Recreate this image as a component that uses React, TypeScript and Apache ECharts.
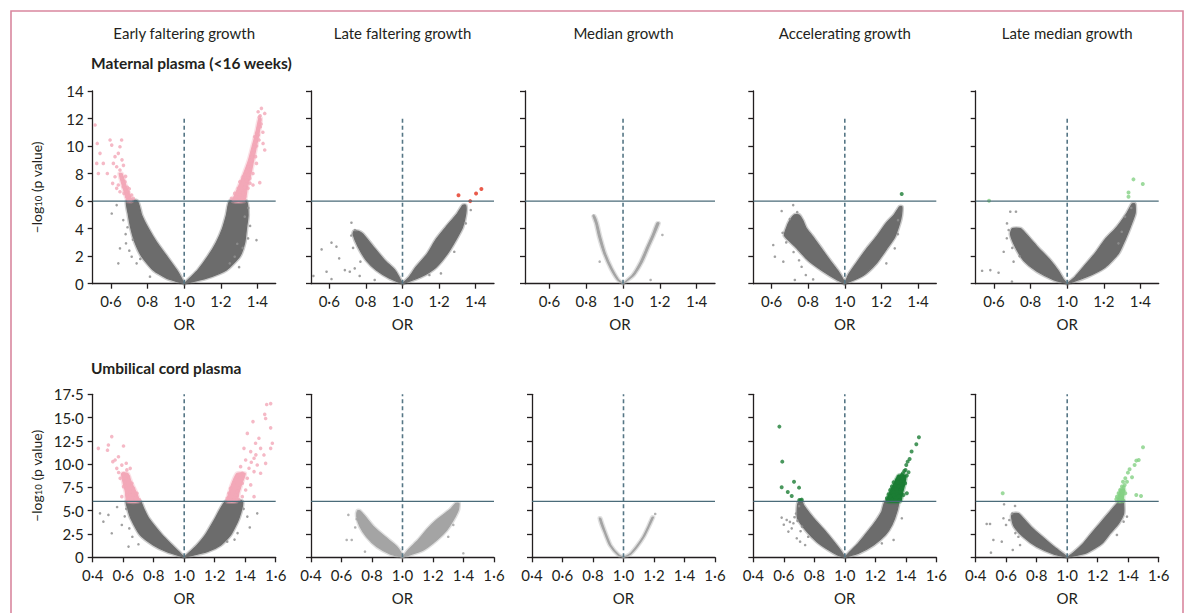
import React, { useEffect, useRef } from 'react';
import * as echarts from 'echarts';

// ---------- text ----------
const columnTitles = ['Early faltering growth', 'Late faltering growth', 'Median growth', 'Accelerating growth', 'Late median growth'];
const rowTitles = ['Maternal plasma (<16 weeks)', 'Umbilical cord plasma'];
const xName = 'OR';
const yName = '–log{sub|10} (p value)';

// ---------- axes ----------
const topXTicks = [0.6, 0.8, 1.0, 1.2, 1.4];
const bottomXTicks = [0.4, 0.6, 0.8, 1.0, 1.2, 1.4, 1.6];
const topXRange = [0.5, 1.5];
const topMedianXRange = [0.467, 1.5];
const bottomXRange = [0.4, 1.6];
const topYRange = [0, 14];
const topYStep = 2;
const bottomYRange = [0, 17.5];
const bottomYStep = 2.5;
const threshold = 6;
const nullOR = 1;
const topDashEnd = 12;
const bottomDashEnd = 17.5;

// ---------- dense bands: [-log10 p, inner OR (near 1), outer OR] ----------
const mEarlyBandL = [[0, 1, 1], [0.4, 0.985, 0.904], [1, 0.958, 0.831], [2, 0.904, 0.767], [3, 0.849, 0.731], [4, 0.804, 0.709], [5, 0.767, 0.695], [6, 0.744, 0.685]];
const mEarlyBandR = [[0, 1, 1], [0.4, 1.031, 1.122], [1, 1.076, 1.231], [2, 1.131, 1.304], [3, 1.176, 1.331], [4, 1.209, 1.34], [5, 1.231, 1.349], [6, 1.249, 1.34]];
const mLateBandL = [[0, 1, 1], [0.4, 0.984, 0.929], [1, 0.957, 0.857], [1.7, 0.902, 0.803], [2.7, 0.839, 0.757], [3.6, 0.784, 0.73], [3.8, 0.76, 0.735]];
const mLateBandR = [[0, 1, 1], [0.5, 1.038, 1.101], [1.2, 1.074, 1.183], [2.2, 1.138, 1.246], [3.2, 1.183, 1.292], [4.1, 1.237, 1.328], [5.1, 1.3, 1.346], [5.7, 1.33, 1.345]];
const mMedianBandL = [[0, 1, 1], [0.3, 0.975, 0.969], [1.1, 0.94, 0.932], [2.2, 0.904, 0.896], [3.4, 0.878, 0.868], [4.4, 0.86, 0.851], [4.9, 0.846, 0.838]];
const mMedianBandR = [[0, 1, 1], [0.6, 1.05, 1.058], [1.6, 1.095, 1.105], [2.7, 1.131, 1.141], [3.5, 1.158, 1.168], [4.4, 1.185, 1.195]];
const mAccelBandL = [[0, 1, 1], [0.3, 0.991, 0.955], [0.9, 0.964, 0.882], [1.7, 0.918, 0.8], [2.7, 0.864, 0.73], [3.5, 0.82, 0.67], [4.0, 0.79, 0.68], [4.6, 0.77, 0.7], [5.0, 0.75, 0.725]];
const mAccelBandR = [[0, 1, 1], [0.6, 1.018, 1.1], [1.5, 1.064, 1.173], [2.5, 1.118, 1.227], [3.4, 1.173, 1.273], [4.4, 1.227, 1.3], [5.0, 1.27, 1.31], [5.6, 1.3, 1.312]];
const mLateMedBandL = [[0, 1, 1], [0.3, 0.98, 0.925], [0.9, 0.953, 0.835], [1.7, 0.907, 0.762], [2.7, 0.835, 0.716], [3.6, 0.775, 0.69], [4.0, 0.745, 0.7]];
const mLateMedBandR = [[0, 1, 1], [0.5, 1.044, 1.107], [1.2, 1.089, 1.207], [2.2, 1.153, 1.28], [3.2, 1.207, 1.316], [4.1, 1.271, 1.344], [5.1, 1.325, 1.371], [5.8, 1.355, 1.37]];
const cEarlyBandL = [[0, 1, 1], [0.6, 0.964, 0.887], [1.3, 0.92, 0.8], [2.4, 0.854, 0.712], [4.2, 0.766, 0.65], [5.2, 0.735, 0.63], [6, 0.712, 0.62]];
const cEarlyBandR = [[0, 1, 1], [0.6, 1.04, 1.15], [1.3, 1.085, 1.238], [2.4, 1.14, 1.304], [4.2, 1.205, 1.359], [6, 1.271, 1.381]];
const cLateBandL = [[0, 1, 1], [0.36, 0.995, 0.918], [1.15, 0.962, 0.831], [2.2, 0.885, 0.765], [3.3, 0.809, 0.721], [4.4, 0.754, 0.7], [5.0, 0.72, 0.705]];
const cLateBandR = [[0, 1, 1], [0.8, 1.038, 1.137], [1.86, 1.104, 1.224], [2.93, 1.158, 1.29], [4.0, 1.224, 1.333], [5.1, 1.311, 1.366], [5.8, 1.35, 1.37]];
const cMedianBandL = [[0, 1, 1], [0.25, 0.97, 0.964], [1.3, 0.917, 0.909], [2.6, 0.884, 0.876], [3.6, 0.862, 0.852], [4.2, 0.85, 0.842]];
const cMedianBandR = [[0, 1, 1], [0.36, 1.042, 1.048], [1.15, 1.084, 1.091], [2.2, 1.128, 1.135], [3.3, 1.161, 1.168], [4.3, 1.188, 1.196]];
const cAccelBandL = [[0, 1, 1], [0.25, 0.991, 0.952], [0.8, 0.969, 0.893], [1.7, 0.926, 0.816], [2.8, 0.871, 0.75], [4.2, 0.794, 0.69], [5.6, 0.729, 0.69], [6, 0.72, 0.7]];
const cAccelBandR = [[0, 1, 1], [0.43, 1.024, 1.09], [1.32, 1.079, 1.188], [2.4, 1.134, 1.265], [3.5, 1.188, 1.309], [4.9, 1.243, 1.341], [6, 1.265, 1.352]];
const cLateMedBandL = [[0, 1, 1], [0.36, 0.975, 0.91], [1.15, 0.91, 0.8], [2.2, 0.835, 0.713], [3.3, 0.76, 0.652], [4.4, 0.7, 0.635], [4.7, 0.68, 0.645]];
const cLateMedBandR = [[0, 1, 1], [0.5, 1.042, 1.129], [1.5, 1.107, 1.228], [2.6, 1.162, 1.282], [3.65, 1.217, 1.337], [4.7, 1.271, 1.37], [5.8, 1.33, 1.37], [6, 1.35, 1.365]];

// dense clusters of significant points: [-log10 p, inner OR, outer OR]
const mEarlySigBandL = [[6, 0.715, 0.69], [7, 0.685, 0.665], [8, 0.66, 0.645]];
const mEarlySigBandR = [[6, 1.265, 1.33], [7, 1.295, 1.345], [8, 1.325, 1.365], [9, 1.352, 1.38], [10, 1.372, 1.395], [11, 1.392, 1.41], [12, 1.408, 1.42]];
const cEarlySigBandL = [[6, 0.705, 0.625], [7, 0.685, 0.615], [8, 0.655, 0.6], [9, 0.63, 0.59]];
const cEarlySigBandR = [[6, 1.28, 1.345], [7, 1.295, 1.36], [8, 1.315, 1.38], [9, 1.345, 1.4]];
const cAccelSigBandR = [[6, 1.275, 1.365], [7, 1.295, 1.38], [8, 1.325, 1.395], [8.8, 1.352, 1.4]];
const cLateMedSigBandR = [[6, 1.33, 1.365], [6.7, 1.338, 1.37], [7.3, 1.35, 1.375]];

// ---------- scattered non-significant points: [OR, -log10 p] ----------
const mEarlyOut = [[0.631, 5.71], [0.604, 5.1], [0.667, 4.62], [0.682, 2.93], [0.649, 2.57], [0.713, 1.96], [0.74, 1.48], [0.64, 1.48], [0.813, 0.51], [1.349, 3.29], [1.395, 3.17], [1.331, 4.87], [1.276, 1.96], [1.249, 1.48], [0.68, 3.6], [0.7, 2.4], [1.32, 2.6], [1.36, 4.2], [0.69, 4.1], [0.72, 3.2], [0.76, 1.8], [1.3, 1.2], [1.29, 2.9], [1.35, 5.5]];
const mLateOut = [[0.721, 4.43], [0.612, 2.98], [0.558, 2.49], [0.639, 2.69], [0.654, 1.84], [0.712, 0.87], [0.739, 1.11], [0.612, 0.34], [0.513, 0.56], [0.685, 0.99], [0.766, 0.56], [0.848, 0.27], [0.585, 0.87], [1.373, 5.35], [1.21, 0.75], [1.283, 2.32], [1.346, 4.38], [1.147, 0.63], [0.72, 3.5], [0.74, 3.9], [0.73, 2.6], [0.77, 1.6]];
const mMedianOut = [[1.214, 3.54], [1.15, 0.27], [0.873, 1.6], [0.84, 4.95], [1.19, 4.38]];
const mAccelOut = [[0.718, 5.71], [0.655, 5.28], [0.609, 2.81], [0.618, 1.96], [0.664, 1.6], [0.727, 0.27], [0.827, 0.31], [0.764, 1.23], [0.787, 0.63], [1.291, 4.62], [1.227, 1.48], [1.273, 2.57], [0.74, 5.2], [0.7, 4.7], [0.68, 3.0], [0.72, 2.3], [0.66, 3.7], [0.75, 1.7], [1.29, 3.6]];
const mLateMedOut = [[0.671, 4.38], [0.689, 5.23], [0.72, 5.23], [0.625, 0.8], [0.58, 0.99], [0.535, 0.94], [0.653, 2.32], [0.707, 1.6], [0.698, 0.15], [1.316, 4.87], [1.28, 2.93], [1.298, 3.77], [0.68, 3.9], [0.74, 2.0], [1.35, 5.5], [0.7, 2.6], [0.67, 3.3]];
const cEarlyOut = [[0.448, 4.72], [0.503, 4.55], [0.47, 3.83], [0.591, 3.47], [0.525, 2.58], [0.635, 1.15], [1.479, 4.72], [1.414, 4.37], [1.282, 1.68], [0.56, 5.4], [0.62, 5.2], [0.66, 2.2], [0.7, 1.4], [1.43, 3.2], [1.35, 2.6], [0.61, 4.4], [0.64, 3.1], [1.39, 5.2], [1.33, 1.9]];
const cLateOut = [[0.645, 4.55], [0.634, 1.86], [0.667, 1.86], [0.754, 0.61], [1.333, 3.47], [1.399, 0.43], [0.69, 3.2], [0.7, 4.1], [1.3, 2.2]];
const cMedianOut = [[1.208, 4.65]];
const cAccelOut = [[0.586, 4.26], [0.619, 4.01], [0.652, 3.11], [0.685, 2.04], [0.663, 3.65], [0.63, 2.76], [0.707, 1.68], [0.74, 1.32], [1.374, 4.19], [1.32, 1.86], [1.243, 1.5], [0.6, 3.5], [0.68, 4.7], [0.7, 5.5], [0.72, 3.3], [0.76, 2.2], [0.67, 4.3], [0.69, 3.9], [0.71, 2.8], [0.64, 3.8]];
const cLateMedOut = [[0.472, 3.58], [0.494, 3.58], [0.516, 1.86], [0.5, 0.5], [0.586, 5.69], [0.658, 5.51], [0.582, 4.19], [0.599, 3.47], [0.571, 1.68], [0.643, 0.79], [0.691, 1.32], [1.392, 4.37], [1.326, 2.4], [1.37, 3.83], [0.62, 4.0], [0.66, 2.6], [0.64, 4.7], [0.68, 2.2]];

// ---------- significant points: [OR, -log10 p] ----------
const mEarlySig = [[0.513, 11.53], [0.525, 10.19], [0.54, 9.47], [0.522, 8.74], [0.558, 8.74], [0.531, 8.01], [0.595, 10.44], [0.604, 10.07], [0.658, 10.44], [0.649, 9.95], [0.622, 9.23], [0.64, 9.47], [0.613, 8.74], [0.631, 8.5], [0.649, 8.26], [0.58, 8.01], [0.622, 7.77], [0.658, 7.65], [0.676, 7.41], [0.64, 7.17], [0.667, 7.05], [0.695, 6.68], [0.713, 6.44], [0.685, 6.32], [0.722, 6.2], [0.704, 6.08], [0.671, 6.56], [0.649, 6.68], [0.631, 6.93], [0.609, 7.29], [0.655, 7.9], [0.668, 8.6], [0.69, 7.0], [0.7, 6.9], [0.68, 7.8], [0.66, 9.0],
  [1.422, 12.74], [1.44, 12.37], [1.404, 12.49], [1.413, 11.89], [1.404, 11.28], [1.395, 10.92], [1.409, 10.44], [1.385, 9.95], [1.431, 10.19], [1.44, 9.71], [1.376, 9.47], [1.367, 8.98], [1.395, 8.74], [1.349, 8.5], [1.34, 8.14], [1.376, 8.01], [1.322, 7.77], [1.358, 7.65], [1.413, 7.34], [1.304, 7.41], [1.331, 7.17], [1.295, 6.93], [1.313, 6.8], [1.349, 6.93], [1.276, 6.56], [1.304, 6.44], [1.331, 6.32], [1.258, 6.2], [1.285, 6.13], [1.313, 6.08], [1.376, 7.17], [1.39, 9.23], [1.416, 11.4], [1.385, 10.68], [1.41, 12.1], [1.42, 11.6], [1.4, 11.0], [1.39, 10.3], [1.37, 9.2], [1.36, 8.3], [1.35, 7.9], [1.34, 7.5], [1.33, 7.0], [1.32, 6.6], [1.3, 6.3], [1.365, 8.7], [1.38, 9.7], [1.395, 10.0], [1.405, 10.8], [1.415, 12.2], [1.43, 11.0], [1.36, 7.3]];
const mLateSig = [[1.306, 6.42], [1.37, 6.0], [1.402, 6.56], [1.431, 6.88]];
const mAccelSig = [[1.311, 6.51]];
const mLateMedSig = [[0.573, 6.03], [1.335, 6.63], [1.335, 6.32], [1.362, 7.58], [1.413, 7.24]];
const cEarlySig = [[0.437, 11.7], [0.525, 12.96], [0.503, 12.06], [0.497, 11.5], [0.602, 11.95], [0.532, 10.27], [0.547, 10.45], [0.569, 10.8], [0.591, 9.9], [0.558, 9.55], [0.602, 9.0], [0.624, 9.38], [0.646, 9.55], [0.58, 8.48], [0.613, 8.12], [0.635, 8.66], [0.657, 7.95], [0.602, 7.59], [0.668, 7.41], [0.646, 7.05], [0.69, 6.87], [0.624, 6.69], [0.679, 6.33], [0.707, 6.16], [0.591, 6.51], [0.635, 7.77], [0.663, 6.69], [0.57, 9.1], [0.62, 10.1],
  [1.512, 17.86], [1.567, 16.5], [1.541, 16.4], [1.528, 15.35], [1.534, 14.9], [1.451, 14.57], [1.567, 13.9], [1.414, 13.3], [1.49, 12.78], [1.468, 12.24], [1.578, 12.24], [1.567, 11.7], [1.392, 11.7], [1.436, 11.35], [1.501, 11.7], [1.523, 10.99], [1.458, 10.63], [1.403, 10.45], [1.479, 9.91], [1.534, 10.09], [1.37, 9.73], [1.425, 9.56], [1.381, 9.02], [1.458, 9.2], [1.348, 8.66], [1.414, 8.48], [1.501, 9.02], [1.326, 7.95], [1.381, 7.95], [1.436, 7.77], [1.304, 7.41], [1.359, 7.41], [1.403, 7.23], [1.293, 6.87], [1.337, 6.69], [1.381, 6.51], [1.282, 6.33], [1.326, 6.16], [1.359, 6.16], [1.458, 6.51], [1.304, 6.16], [1.348, 7.05], [1.44, 10.2], [1.47, 11.0]];
const cAccelSig = [[0.571, 14.03], [0.59, 10.27], [0.586, 7.52], [0.667, 8.12], [0.626, 7.01], [0.7, 7.48], [0.652, 6.59], [0.702, 6.16], [0.718, 6.19], [0.711, 6.12],
  [1.486, 12.88], [1.469, 12.13], [1.438, 11.35], [1.425, 10.56], [1.412, 10.27], [1.403, 9.91], [1.398, 9.38], [1.39, 9.27], [1.418, 9.13], [1.374, 8.84], [1.407, 8.77], [1.352, 8.66], [1.385, 8.48], [1.341, 8.3], [1.363, 8.12], [1.32, 8.05], [1.396, 7.95], [1.331, 7.77], [1.352, 7.59], [1.374, 7.48], [1.309, 7.59], [1.298, 7.23], [1.342, 7.12], [1.363, 6.98], [1.407, 6.87], [1.287, 6.76], [1.32, 6.69], [1.352, 6.51], [1.385, 6.69], [1.276, 6.33], [1.309, 6.26], [1.331, 6.16], [1.363, 6.16], [1.281, 6.16], [1.298, 6.51], [1.337, 7.34], [1.368, 7.84], [1.346, 8.05], [1.381, 9.02], [1.352, 8.48]];
const cLateMedSig = [[0.577, 6.87], [1.497, 11.81], [1.469, 10.45], [1.453, 10.38], [1.442, 9.91], [1.409, 9.45], [1.398, 9.09], [1.425, 8.59], [1.381, 8.48], [1.392, 8.12], [1.366, 8.12], [1.377, 7.77], [1.359, 7.59], [1.37, 7.52], [1.348, 7.23], [1.37, 7.16], [1.337, 6.87], [1.363, 6.69], [1.326, 6.51], [1.352, 6.34], [1.322, 6.23], [1.453, 6.69], [1.484, 6.59], [1.344, 6.08], [1.37, 6.08], [1.381, 6.87]];

// ---------- style ----------
const FONT = 'Lato, "Open Sans", "DejaVu Sans", sans-serif';
const INK = '#231f20';
const DARK_GRAY = '#6c6c6c';
const LIGHT_GRAY = '#a4a4a4';
const OUT_GRAY = '#8f8f8f';
const PINK = '#f3a8b8';
const RED = '#e4321e';
const DARK_GREEN = '#1b7d34';
const LIGHT_GREEN = '#85d185';
const LINE_COLOR = '#4a6b79';
const DASH_COLOR = '#557685';
const FRAME = '#d9879f';

const panels = [
  { row: 0, bandL: mEarlyBandL, bandR: mEarlyBandR, out: mEarlyOut, sig: mEarlySig, sigBands: [mEarlySigBandL, mEarlySigBandR], fill: DARK_GRAY, sigColor: PINK },
  { row: 0, bandL: mLateBandL, bandR: mLateBandR, out: mLateOut, sig: mLateSig, sigBands: [], fill: DARK_GRAY, sigColor: RED },
  { row: 0, bandL: mMedianBandL, bandR: mMedianBandR, out: mMedianOut, sig: [], sigBands: [], fill: LIGHT_GRAY, sigColor: LIGHT_GRAY },
  { row: 0, bandL: mAccelBandL, bandR: mAccelBandR, out: mAccelOut, sig: mAccelSig, sigBands: [], fill: DARK_GRAY, sigColor: DARK_GREEN },
  { row: 0, bandL: mLateMedBandL, bandR: mLateMedBandR, out: mLateMedOut, sig: mLateMedSig, sigBands: [], fill: DARK_GRAY, sigColor: LIGHT_GREEN },
  { row: 1, bandL: cEarlyBandL, bandR: cEarlyBandR, out: cEarlyOut, sig: cEarlySig, sigBands: [cEarlySigBandL, cEarlySigBandR], fill: DARK_GRAY, sigColor: PINK },
  { row: 1, bandL: cLateBandL, bandR: cLateBandR, out: cLateOut, sig: [], sigBands: [], fill: LIGHT_GRAY, sigColor: LIGHT_GRAY },
  { row: 1, bandL: cMedianBandL, bandR: cMedianBandR, out: cMedianOut, sig: [], sigBands: [], fill: LIGHT_GRAY, sigColor: LIGHT_GRAY },
  { row: 1, bandL: cAccelBandL, bandR: cAccelBandR, out: cAccelOut, sig: cAccelSig, sigBands: [cAccelSigBandR], fill: DARK_GRAY, sigColor: DARK_GREEN },
  { row: 1, bandL: cLateMedBandL, bandR: cLateMedBandR, out: cLateMedOut, sig: cLateMedSig, sigBands: [cLateMedSigBandR], fill: DARK_GRAY, sigColor: LIGHT_GREEN },
];

// layout in pixels
const colLefts = [92.7, 311, 532, 753.3, 975.7];
const colWidth = 183;
const rowTops = [91, 394.3];
const rowHeights = [192.7, 163];

const fmtDot = (v: number) => v.toFixed(1).replace('.', '·');
const fmtY0 = (v: number) => String(Math.round(v));
const fmtY1 = (v: number) => (v === 0 ? '0' : v.toFixed(1).replace('.', '·'));

function bandSeries(idx: number, band: number[][], color: string, z: number) {
  return {
    type: 'custom',
    xAxisIndex: idx,
    yAxisIndex: idx,
    silent: true,
    z,
    data: [[nullOR, 0]],
    renderItem: (_params: any, api: any) => {
      const outer = band.map((r) => api.coord([r[2], r[0]]));
      const inner = band.slice().reverse().map((r) => api.coord([r[1], r[0]]));
      const points = outer.concat(inner);
      return {
        type: 'group',
        children: [
          { type: 'polygon', shape: { points, smooth: 0.2 }, style: { fill: 'none', stroke: color, lineWidth: 4, opacity: 0.35, lineJoin: 'round' } },
          { type: 'polygon', shape: { points, smooth: 0.2 }, style: { fill: color, stroke: color, lineWidth: 1.2, lineJoin: 'round' } },
        ],
      };
    },
  };
}

function buildOption() {
  const grid: any[] = [];
  const xAxis: any[] = [];
  const yAxis: any[] = [];
  const series: any[] = [];

  panels.forEach((p, i) => {
    const col = i % 5;
    const row = p.row;
    const isTopMedian = row === 0 && col === 2;
    const left = isTopMedian ? 525 : colLefts[col];
    const width = isTopMedian ? 190 : colWidth;
    grid.push({ left, top: rowTops[row], width, height: rowHeights[row], outerBoundsMode: 'none', containLabel: false });

    const xr = row === 0 ? (isTopMedian ? topMedianXRange : topXRange) : bottomXRange;
    const xt = row === 0 ? topXTicks : bottomXTicks;
    const yr = row === 0 ? topYRange : bottomYRange;
    const ys = row === 0 ? topYStep : bottomYStep;

    xAxis.push({
      gridIndex: i,
      type: 'value',
      min: xr[0],
      max: xr[1],
      axisLine: { show: true, onZero: false, lineStyle: { color: INK, width: 1.3 } },
      axisTick: { show: true, length: 5, customValues: xt, lineStyle: { color: INK, width: 1.3 } },
      axisLabel: { show: true, customValues: xt, formatter: fmtDot, margin: 10, color: INK, fontSize: 15, fontFamily: FONT },
      splitLine: { show: false },
      name: xName,
      nameLocation: 'middle',
      nameGap: 33,
      nameTextStyle: { color: INK, fontSize: 15, fontFamily: FONT },
    });

    yAxis.push({
      gridIndex: i,
      type: 'value',
      min: yr[0],
      max: yr[1],
      interval: ys,
      axisLine: { show: true, onZero: false, lineStyle: { color: INK, width: 1.3 } },
      axisTick: { show: true, length: 5, lineStyle: { color: INK, width: 1.3 } },
      axisLabel: { show: col === 0, formatter: row === 0 ? fmtY0 : fmtY1, margin: 9, color: INK, fontSize: 15, fontFamily: FONT },
      splitLine: { show: false },
      name: col === 0 ? yName : '',
      nameLocation: 'middle',
      nameRotate: 90,
      nameGap: 49,
      nameTextStyle: {
        color: INK, fontSize: 14, fontFamily: FONT,
        rich: { sub: { fontSize: 9.5, fontFamily: FONT, color: INK, padding: [5, 0, 0, 0] } },
      },
    });

    series.push(bandSeries(i, p.bandL, p.fill, 2));
    series.push(bandSeries(i, p.bandR, p.fill, 2));
    series.push({
      type: 'scatter', xAxisIndex: i, yAxisIndex: i, silent: true, z: 3,
      data: p.out, symbolSize: 2.6,
      itemStyle: { color: p.fill === LIGHT_GRAY ? LIGHT_GRAY : OUT_GRAY, opacity: 0.85 },
    });
    p.sigBands.forEach((b) => series.push(bandSeries(i, b, p.sigColor, 4)));
    series.push({
      type: 'scatter', xAxisIndex: i, yAxisIndex: i, silent: true, z: 5,
      data: p.sig, symbolSize: p.sigColor === PINK ? 3.6 : 4,
      itemStyle: { color: p.sigColor },
    });
    series.push({
      type: 'line', xAxisIndex: i, yAxisIndex: i, silent: true, z: 6,
      data: [[xr[0], threshold], [xr[1], threshold]],
      symbol: 'none', lineStyle: { color: LINE_COLOR, width: 1.3 },
    });
    series.push({
      type: 'line', xAxisIndex: i, yAxisIndex: i, silent: true, z: 6,
      data: [[nullOR, 0], [nullOR, row === 0 ? topDashEnd : bottomDashEnd]],
      symbol: 'none', lineStyle: { color: DASH_COLOR, width: 1.6, type: [4, 3] },
    });
  });

  const graphic: any[] = [
    { type: 'rect', shape: { x: 11, y: 11, width: 1172, height: 640 }, style: { fill: 'none', stroke: FRAME, lineWidth: 1.6 }, silent: true },
  ];
  columnTitles.forEach((t, c) => {
    const left = colLefts[c];
    graphic.push({
      type: 'text', x: left + colWidth / 2, y: 33,
      style: { text: t, fill: INK, font: `15px ${FONT}`, align: 'center', verticalAlign: 'middle' },
      silent: true,
    });
  });
  rowTitles.forEach((t, r) => {
    graphic.push({
      type: 'text', x: 91, y: r === 0 ? 63 : 368,
      style: { text: t, fill: INK, font: `bold 15.5px ${FONT}`, align: 'left', verticalAlign: 'middle' },
      silent: true,
    });
  });

  return {
    animation: false,
    backgroundColor: '#ffffff',
    grid,
    xAxis,
    yAxis,
    series,
    graphic,
  };
}

export default function App() {
  const ref = useRef<HTMLDivElement>(null);
  useEffect(() => {
    if (!ref.current) return;
    const chart = echarts.init(ref.current, undefined, { renderer: 'svg' });
    chart.setOption(buildOption() as any);
    return () => chart.dispose();
  }, []);
  return <div ref={ref} style={{ position: 'absolute', left: 0, top: 0, width: 1189, height: 613 }} />;
}
